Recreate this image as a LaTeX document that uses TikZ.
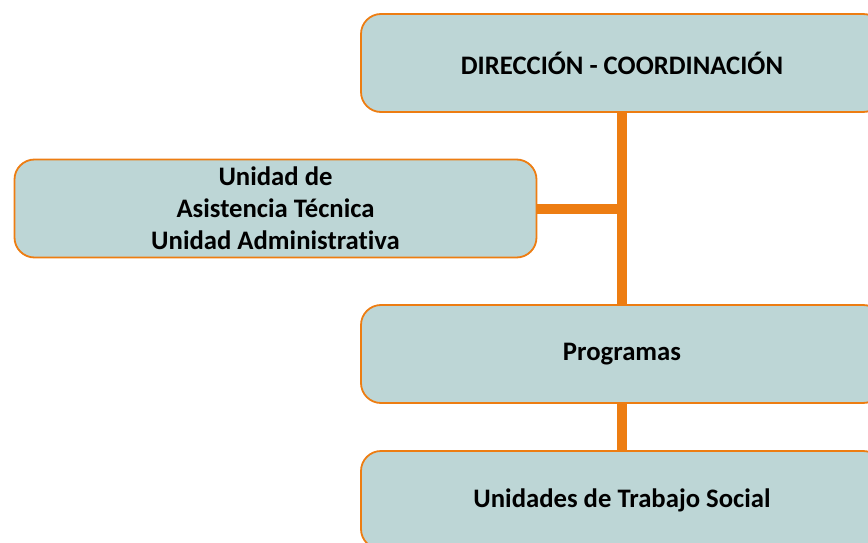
\documentclass[tikz,border=0pt]{standalone}
\usepackage{fontspec}
\setmainfont[Ligatures=NoCommon]{Carlito}
\usetikzlibrary{positioning}
\definecolor{cajafondo}{RGB}{189,214,214}
\definecolor{naranja}{RGB}{237,125,18}

\begin{document}
\begin{tikzpicture}[x=1pt, y=-1pt,
    caja/.style={draw=naranja, line width=1.8pt, fill=cajafondo, rounded corners=20pt,
      minimum width=522pt, minimum height=98pt, inner sep=0pt, align=center,
      font=\fontsize{26.7}{32}\selectfont\bfseries},
    enlace/.style={draw=naranja, line width=10pt}]
    \useasboundingbox (0,0) rectangle (868,543);
    \clip (0,0) rectangle (868,543);
    \node[caja] (dir) at (622,63) {DIRECCIÓN - COORDINACIÓN};
    \node[caja] (asis) at (275.5,208.5) {Unidad de\\Asistencia Técnica\\Unidad Administrativa};
    \node[caja] (prog) at (622,354) {Programas};
    \node[caja] (uts) at (622,500) {Unidades de Trabajo Social};
    \draw[enlace] (dir) -- (prog);
    \draw[enlace] (asis.east) -- (asis.east -| dir.south);
    \draw[enlace] (prog) -- (uts);
\end{tikzpicture}
\end{document}
